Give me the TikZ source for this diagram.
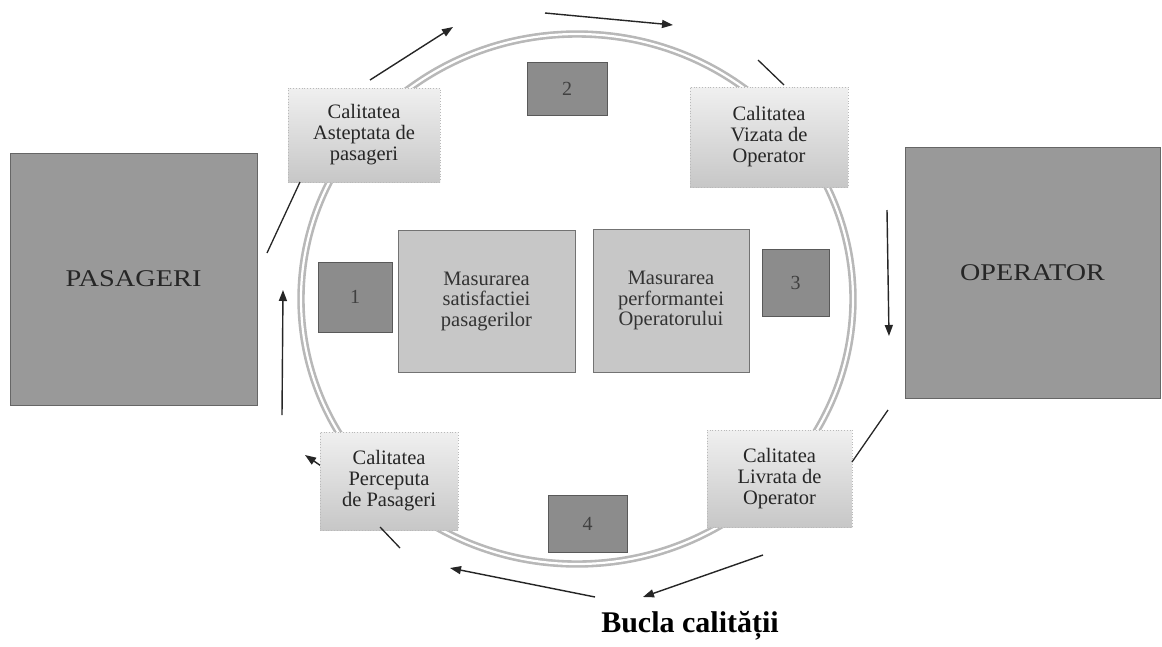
\documentclass[tikz,border=0pt]{standalone}
\usepackage{fontspec}
\setmainfont{Liberation Serif}
\usetikzlibrary{arrows.meta,shadings}
\begin{document}
\begin{tikzpicture}[x=1pt,y=-1pt,
  actor/.style={draw=black!60, line width=0.8pt, fill=black!40, inner sep=0pt,
     font=\fontsize{24}{26}\selectfont, text=black!85},
  numbox/.style={draw=black!65, line width=0.8pt, fill=black!45, inner sep=0pt,
     font=\fontsize{20}{21}\selectfont, text=black!75},
  measbox/.style={draw=black!55, line width=0.6pt, fill=black!22, inner sep=0pt, align=center,
     font=\fontsize{20.5}{20.5}\selectfont, text=black!80},
  qualbox/.style={draw=gray!55, dotted, line width=0.8pt, top color=black!6, bottom color=black!22,
     inner sep=0pt, align=center, font=\fontsize{20.5}{21}\selectfont, text=black!85},
  flow/.style={line width=1.4pt, black!85, -{Triangle[length=11pt,width=8pt]}},
  tick/.style={line width=1.3pt, black!85},
  ring/.style={draw=black!28, line width=2.6pt, double=white, double distance=2.2pt}
]
\useasboundingbox (0,0) rectangle (1162,646);
\fill[white] (0,0) rectangle (1162,646);

% ring
\draw[ring] (577,299) ellipse [x radius=276, y radius=265];

% hidden-tail arrow near Perceputa box
\coordinate (pt1) at (330,472);
\coordinate (pt2) at (305,455);
\draw[flow] (pt1) -- (pt2);

% boxes
\node[actor, minimum width=247pt, minimum height=252pt] (pas) at (133.5,279) {\scalebox{1.18}[1]{PASAGERI}};
\node[actor, minimum width=255pt, minimum height=251pt] (op) at (1032.5,272.5) {\scalebox{1.17}[1]{OPERATOR}};

\node[qualbox, minimum width=152pt, minimum height=94pt] (ast) at (364,135) {Calitatea\\Asteptata de\\pasageri};
\node[qualbox, minimum width=158pt, minimum height=100pt] (viz) at (769,137) {Calitatea\\Vizata de\\Operator};
\node[qualbox, minimum width=138pt, minimum height=98pt] (per) at (389,481) {Calitatea\\Perceputa\\de Pasageri};
\node[qualbox, minimum width=145pt, minimum height=97pt] (liv) at (779.5,478.5) {Calitatea\\Livrata de\\Operator};

\node[numbox, minimum width=80pt, minimum height=53pt] (n2) at (567,88.5) {2};
\node[numbox, minimum width=74pt, minimum height=70pt] (n1) at (355,297) {1};
\node[numbox, minimum width=67pt, minimum height=67pt] (n3) at (795.5,282.5) {3};
\node[numbox, minimum width=79pt, minimum height=57pt] (n4) at (587.5,523.5) {4};

\node[measbox, minimum width=177pt, minimum height=142pt] (ms) at (486.5,301) {Masurarea\\satisfactiei\\pasagerilor};
\node[measbox, minimum width=156pt, minimum height=143pt] (mp) at (671,300.5) {Masurarea\\performantei\\Operatorului};

% arrows and ticks
\coordinate (a1s) at (370,80);  \coordinate (a1e) at (453,27);
\coordinate (a2s) at (545,13);  \coordinate (a2e) at (673,25);
\coordinate (t1s) at (758,60);  \coordinate (t1e) at (784,85);
\coordinate (a3s) at (887,210); \coordinate (a3e) at (889,336);
\coordinate (t2s) at (888,410); \coordinate (t2e) at (852,462);
\coordinate (a4s) at (763,555); \coordinate (a4e) at (643,597);
\coordinate (a5s) at (595,597); \coordinate (a5e) at (450,568);
\coordinate (t3s) at (400,548); \coordinate (t3e) at (380,527);
\coordinate (a6s) at (282,415); \coordinate (a6e) at (283,290);
\coordinate (t4s) at (267,253); \coordinate (t4e) at (300,182);

\draw[flow] (a1s) -- (a1e);
\draw[flow] (a2s) -- (a2e);
\draw[tick] (t1s) -- (t1e);
\draw[flow] (a3s) -- (a3e);
\draw[tick] (t2s) -- (t2e);
\draw[flow] (a4s) -- (a4e);
\draw[flow] (a5s) -- (a5e);
\draw[tick] (t3s) -- (t3e);
\draw[flow] (a6s) -- (a6e);
\draw[tick] (t4s) -- (t4e);

\node[anchor=base, font=\fontsize{30}{32}\selectfont\bfseries] (title) at (690,632) {Bucla calității};
\end{tikzpicture}
\end{document}
